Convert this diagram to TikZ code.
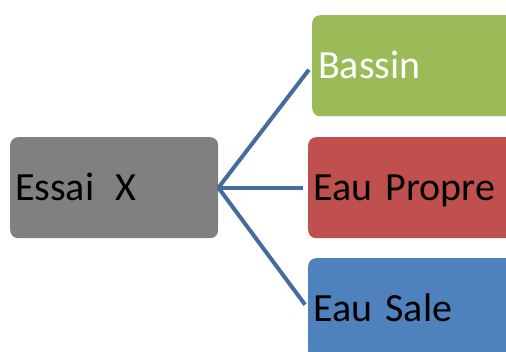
\documentclass[tikz,border=0pt]{standalone}
\usepackage{fontspec}
\setmainfont{Carlito}
\usepackage{tikz}

\definecolor{essaigray}{RGB}{128,128,128}
\definecolor{bassingreen}{RGB}{155,187,89}
\definecolor{propred}{RGB}{192,80,77}
\definecolor{saleblue}{RGB}{79,129,189}
\definecolor{linkblue}{RGB}{68,108,158}

\begin{document}
\begin{tikzpicture}[x=1pt, y=-1pt,
    box/.style={rectangle, rounded corners=8pt, anchor=north west, align=left,
      inner xsep=5pt, inner ysep=0pt, minimum height=101pt,
      text height=26pt, text depth=0pt, font=\fontsize{40}{48}\selectfont},
    link/.style={color=linkblue, line width=4pt, shorten >=5pt}]
    \useasboundingbox (0, 0) rectangle (506, 351);
    \clip (0, 0) rectangle (506, 351);

    % draw the boxes
    \node[box, fill=essaigray, text width=198pt] (essai) at (10, 137) {Essai\hspace{21pt}X};
    \node[box, fill=bassingreen, text=white, inner xsep=6pt, text width=220pt] (bassin) at (312, 15) {Bassin};
    \node[box, fill=propred, text width=220pt] (propre) at (308, 137) {Eau Propre};
    \node[box, fill=saleblue, text width=220pt] (sale) at (308, 258) {Eau Sale};

    % draw the links
    \draw[link] (essai.east) -- (bassin.west);
    \draw[link] (essai.east) -- (propre.west);
    \draw[link] (essai.east) -- (sale.west);

\end{tikzpicture}
\end{document}
